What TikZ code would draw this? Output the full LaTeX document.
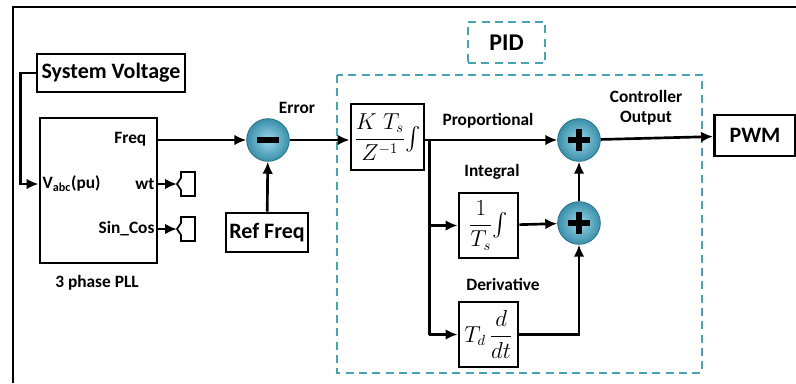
\documentclass[tikz,border=0pt]{standalone}
\usepackage{amsmath}
\usepackage{fontspec}
\setmainfont{Carlito}
\DeclareMathSizes{16}{16}{11}{8}
\usetikzlibrary{arrows.meta,calc,positioning}
\definecolor{pidline}{HTML}{4AA3B2}
\definecolor{balllight}{HTML}{9AD8EA}
\definecolor{balldark}{HTML}{3A8FAA}
\tikzset{>={Latex[length=9pt,width=8pt]},line width=2pt,
  every node/.style={font=\bfseries\fontsize{13}{15}\selectfont},
  blk/.style={draw,line width=2.2pt,inner sep=0pt},
  bigtext/.style={font=\bfseries\fontsize{16.5}{18}\selectfont},
  wire/.style={draw,line width=2pt},
  sumball/.style={circle,shading=radial,inner color=balllight,outer color=balldark,
    draw=balldark!80!black,line width=0.6pt,minimum size=32pt,inner sep=0pt},
  sign/.style={line width=4pt},
  pidframe/.style={draw=pidline,dash pattern=on 6pt off 4pt,line width=1.8pt},
  mathbox/.style={blk,font=\fontsize{16}{18}\selectfont},
  term/.pic={\draw[line width=1.3pt] (4,-12)--(18,-12)--(18,12)--(4,12)--(4,6)--(0,0)--(4,-6)--cycle;}}

\begin{document}
\begin{tikzpicture}[x=0.75pt,y=-0.75pt]
\useasboundingbox (0,0) rectangle (796,383);
% outer frame
\draw[line width=2pt] (13,383) -- (13,7) -- (796,7);

% PLL side
\node[blk,bigtext,minimum width=111pt,minimum height=28.5pt] (sysv) at (111,73) {System Voltage};
\node[blk,minimum width=87.75pt,minimum height=108.75pt] (pll) at (98.5,190.5) {};
\node[anchor=east] (freq) at (151,139) {Freq};
\node[anchor=west,inner sep=1pt] (vabc) at (41,184) {V\textsubscript{abc}(pu)};
\node[anchor=east,inner sep=1pt] (wt) at (156,184) {wt};
\node[anchor=east,inner sep=1pt] (sincos) at (156,229) {Sin\_Cos};
\node (plllbl) at (97,283) {3 phase PLL};
\coordinate (wtT) at (177,184);
\coordinate (scT) at (177,229);
\pic at (wtT) {term};
\pic at (scT) {term};

% error junction
\node[sumball] (err) at (268,140) {};
\draw[sign] ($(err)+(-11,0)$) -- ($(err)+(11,0)$);
\node (errlbl) at (297,108) {Error};
\node[blk,bigtext,minimum width=61.5pt,minimum height=29.25pt] (reff) at (267,232.5) {Ref Freq};

% PID
\draw[pidframe] (337,75) rectangle (702,373);
\node[pidframe,minimum width=57.75pt,minimum height=30.75pt,font=\bfseries\fontsize{18}{20}\selectfont] (pid) at (506.5,42.5) {PID};
\node[mathbox,minimum width=54.75pt,minimum height=49.5pt] (kts) at (387.5,137) {$\dfrac{K\;T_s}{Z^{-1}}{\textstyle\int}$};
\node[mathbox,minimum width=44.25pt,minimum height=48.75pt] (integ) at (488.5,225.5) {$\dfrac{1}{T_s}{\textstyle\int}$};
\node[mathbox,minimum width=44.25pt,minimum height=48.75pt] (deriv) at (488.5,334.5) {$T_d\,\dfrac{d}{dt}$};
\node[sumball] (sumP) at (579,140) {};
\node[sumball] (sumI) at (579,223) {};
\draw[sign] ($(sumP)+(-11,0)$) -- ($(sumP)+(11,0)$) ($(sumP)+(0,-11)$) -- ($(sumP)+(0,11)$);
\draw[sign] ($(sumI)+(-11,0)$) -- ($(sumI)+(11,0)$) ($(sumI)+(0,-11)$) -- ($(sumI)+(0,11)$);
\node (proplbl) at (488,121) {Proportional};
\node (intlbl) at (492,172) {Integral};
\node (derlbl) at (503,284) {Derivative};
\node[align=center] (outlbl) at (646,108) {Controller\\Output};
\node[blk,bigtext,minimum width=60.75pt,minimum height=30.75pt] (pwm) at (755,135.5) {PWM};
\coordinate (br) at ($(kts.east)+(4,3)$);

% connectors
\draw[wire,->] (sysv.west) -- ++(-15,0) |- (pll.west |- vabc);
\draw[wire,->] (pll.east |- err) -- (err);
\draw[wire,->] (pll.east |- wtT) -- (wtT);
\draw[wire,->] (pll.east |- scT) -- (scT);
\draw[wire,->] (reff) -- (err);
\draw[wire,->] (err) -- (err -| kts.west);
\draw[wire,->] (kts.east |- sumP) -- (sumP);
\draw[wire] (br) -- (br |- deriv);
\draw[wire,->] (br |- integ) -- (integ);
\draw[wire,->] (br |- deriv) -- (deriv);
\draw[wire,->] (integ) -- (sumI);
\draw[wire,->] (deriv) -| (sumI);
\draw[wire,->] (sumI) -- (sumP);
\draw[wire,->] (sumP) -- (pwm);
\end{tikzpicture}
\end{document}
